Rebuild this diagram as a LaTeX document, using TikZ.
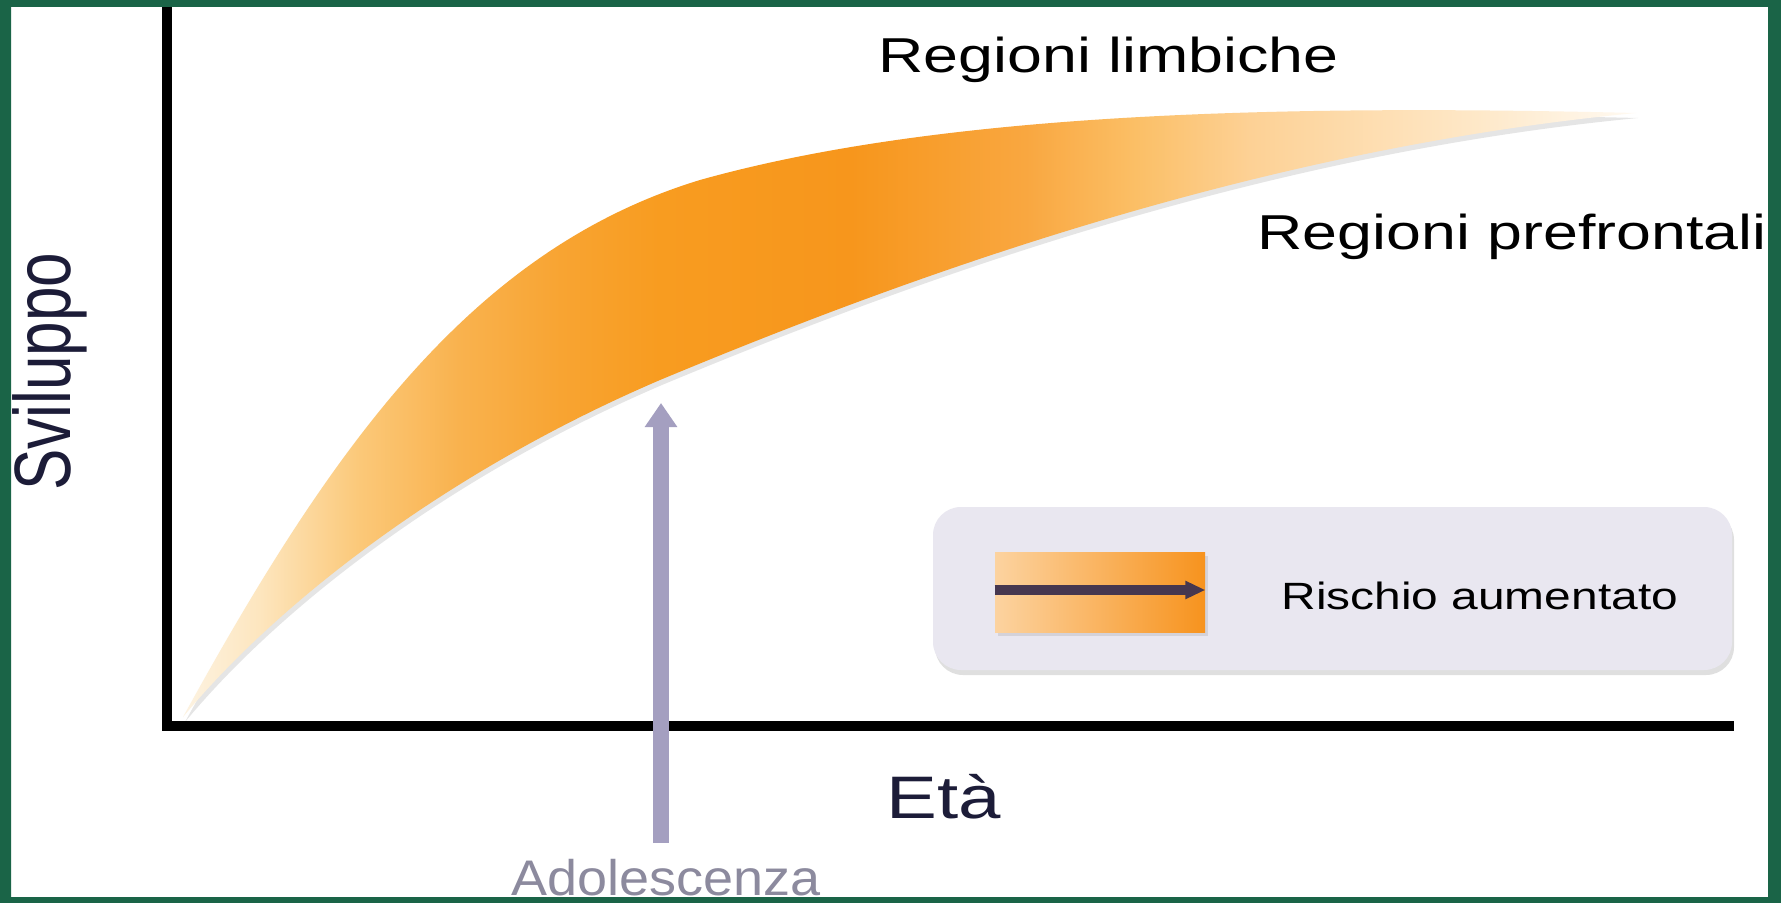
\documentclass[tikz,border=0pt]{standalone}
\usepackage{fontspec}
\setmainfont{Liberation Sans}
\usetikzlibrary{arrows.meta,shadows}

\definecolor{framegreen}{RGB}{26,100,71}
\definecolor{adolcol}{HTML}{A49FC0}
\definecolor{adoltext}{HTML}{8C8A9E}
\definecolor{legendfill}{HTML}{E9E7F0}
\definecolor{legendarrow}{HTML}{46374F}
\definecolor{axislabel}{HTML}{1C1C38}
\definecolor{swatchleft}{HTML}{FCD3A0}
\definecolor{swatchright}{HTML}{F7931E}
\definecolor{band0}{HTML}{FDF3E2}
\definecolor{band1}{HTML}{FDE6BF}
\definecolor{band2}{HTML}{FBC878}
\definecolor{band3}{HTML}{F9B24E}
\definecolor{band4}{HTML}{F8A432}
\definecolor{band5}{HTML}{F89C20}
\definecolor{band6}{HTML}{F7961C}
\definecolor{band7}{HTML}{F9A740}
\definecolor{band8}{HTML}{FBBF66}
\definecolor{band9}{HTML}{FDD195}
\definecolor{band10}{HTML}{FEE8C8}
\definecolor{band11}{HTML}{FFFAF2}

\pgfdeclarehorizontalshading{bandshade}{100bp}{color(0bp)=(band0); color(25bp)=(band0);
  color(27.6bp)=(band1); color(31.1bp)=(band2); color(34.5bp)=(band3); color(38bp)=(band4);
  color(41.4bp)=(band5); color(48bp)=(band6); color(54bp)=(band7); color(57.8bp)=(band8);
  color(61.7bp)=(band9); color(69.5bp)=(band10); color(75bp)=(band11); color(100bp)=(band11)}

\tikzset{
  axis/.style={line width=5pt, line join=miter},
  adol/.style={line width=8pt, draw=adolcol, -{Triangle[width=15.5pt,length=12pt]}},
  region/.style={inner sep=0pt, anchor=base west, font=\fontsize{24.5pt}{29pt}\selectfont, xscale=1.28},
  legendbox/.style={rounded corners=14pt, fill=legendfill, minimum width=399.5pt, minimum height=81.5pt,
    drop shadow={shadow xshift=1pt, shadow yshift=-2.5pt, opacity=.25}},
  swatch/.style={left color=swatchleft, right color=swatchright, minimum width=105pt, minimum height=40pt,
    drop shadow={shadow xshift=1.5pt, shadow yshift=-2pt, opacity=.2}},
}

\begin{document}
\begin{tikzpicture}[x=0.5pt, y=-0.5pt]
  \useasboundingbox (0,0) rectangle (1781,903);
  \fill[white] (0,0) rectangle (1781,903);

  % development band
  \coordinate (bstart) at (183,717);
  \coordinate (bend) at (1636,113);
  \shade[shading=bandshade, drop shadow={shadow xshift=1pt, shadow yshift=-2.5pt, opacity=.2}]
    (bstart) .. controls (330,450) and (470,250) .. (700,180)
    .. controls (950,110) and (1300,105) .. (bend)
    .. controls (1250,150) and (900,280) .. (660,380)
    .. controls (450,470) and (280,600) .. (bstart) -- cycle;

  % axes
  \coordinate (O) at (167,726);
  \coordinate (ytop) at (167,6);
  \coordinate (xend) at (1734,726);
  \draw[axis] (ytop) -- (O) -- (xend);

  \node[region] (limb) at (878,73) {Regioni limbiche};
  \node[region] (pref) at (1257,250) {Regioni prefrontali};
  \node[inner sep=0pt, anchor=base west, rotate=90, yscale=1.29, text=axislabel,
    font=\fontsize{31pt}{36pt}\selectfont] (dev) at (70,491) {Sviluppo};
  \node[inner sep=0pt, anchor=base west, xscale=1.27, text=axislabel,
    font=\fontsize{30pt}{35pt}\selectfont] (age) at (886,818) {Età};

  % adolescence marker
  \coordinate (adolbase) at (661,843);
  \coordinate (adoltip) at (661,403);
  \draw[adol] (adolbase) -- (adoltip);
  \node[inner sep=0pt, anchor=base west, xscale=1.08, text=adoltext,
    font=\fontsize{25pt}{30pt}\selectfont] (adol) at (511,895) {Adolescenza};

  % legend
  \node[legendbox] (legend) at (1332.5,588.5) {};
  \node[swatch] (sw) at (1100,592) {};
  \draw[line width=5pt, legendarrow, -{Triangle[width=8.5pt,length=10pt]}]
    ([yshift=1pt]sw.west) -- ([yshift=1pt]sw.east);
  \node[inner sep=0pt, anchor=base west, xscale=1.26, font=\fontsize{19pt}{22pt}\selectfont]
    (risk) at (1281,609) {Rischio aumentato};

  \fill[framegreen, even odd rule] (0,0) rectangle (1781,903) (11,7) rectangle (1768,897);
\end{tikzpicture}
\end{document}
